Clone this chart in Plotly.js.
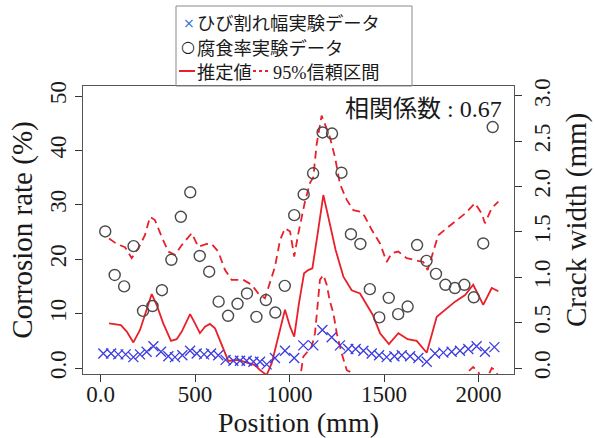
<!DOCTYPE html>
<html>
<head>
<meta charset="utf-8">
<script src="https://cdn.plot.ly/plotly-3.0.1.min.js"></script>
<style>html,body{margin:0;padding:0;background:#fff;}#chart{width:595px;height:438px;}</style>
</head>
<body>
<div id="chart"></div>
<script>
// ---- data ----
// corrosion-rate experiment (circles), %
const corrPos = [25,75,125,175,225,275,325,375,425,475,525,575,625,675,725,775,825,875,925,975,1025,1075,1125,1175,1225,1275,1325,1375,1425,1475,1525,1575,1625,1675,1725,1775,1825,1875,1925,1975,2025,2075];
const corrRate = [25.1,17.1,15.0,22.4,10.5,11.4,14.3,19.9,27.8,32.3,20.6,17.7,12.2,9.6,11.8,13.7,9.4,12.5,10.2,15.1,28.1,31.9,35.8,43.3,43.1,35.9,24.6,22.8,14.5,9.3,12.9,9.9,11.3,22.6,19.7,17.3,15.3,14.7,15.3,13.0,22.9,44.3];

// crack-width experiment (crosses), mm
const crackPos = [15,56,94,133,174,209,244,280,320,359,394,433,474,509,548,585,623,662,703,738,773,809,844,879,923,976,1025,1073,1126,1174,1223,1267,1311,1350,1391,1435,1474,1514,1555,1594,1638,1682,1726,1770,1814,1858,1902,1946,1990,2034,2084];
const crackWidth = [0.16,0.16,0.15,0.15,0.12,0.15,0.18,0.24,0.18,0.13,0.12,0.14,0.19,0.16,0.15,0.16,0.14,0.09,0.08,0.08,0.08,0.07,0.07,0.04,0.11,0.19,0.11,0.25,0.25,0.42,0.34,0.25,0.21,0.21,0.19,0.16,0.14,0.12,0.13,0.14,0.13,0.11,0.07,0.16,0.17,0.18,0.19,0.21,0.24,0.18,0.23];

// estimate (solid red), %
const estPos = [45,108,139,174,209,239,271,297,332,373,403,430,474,500,526,553,579,606,650,676,729,782,817,844,879,906,941,976,1003,1025,1050,1077,1099,1121,1152,1179,1205,1244,1285,1329,1373,1417,1440,1479,1526,1576,1625,1673,1726,1779,1832,1876,1929,1972,2025,2070,2105];
const estVal = [8.2,7.9,6.7,4.7,7.0,10.1,13.6,11.6,8.2,5.0,5.3,6.7,9.9,8.2,6.4,7.6,8.1,7.3,3.3,1.3,1.5,1.0,0.55,-0.4,-1.3,0.9,5.75,10.7,7.6,5.75,11.9,17.4,18.0,18.3,25.4,31.8,27.8,21.7,16.8,14.3,13.7,11.3,9.8,6.4,4.4,6.4,5.3,5.0,2.8,9.4,11.0,12.2,13.4,15.3,11.6,14.7,14.1];

// 95% interval, upper (dashed red), %
const upPos = [45,86,130,165,200,235,262,288,324,359,394,430,483,517,562,588,623,659,694,756,800,835,870,923,950,976,1003,1025,1047,1082,1108,1126,1144,1170,1214,1241,1267,1303,1338,1382,1399,1435,1479,1514,1541,1576,1620,1664,1708,1731,1761,1787,1832,1885,1929,1981,2017,2034,2070,2105];
const upVal = [23.8,22.8,22.2,20.2,22.0,24.4,27.8,27.2,24.1,21.4,20.8,22.6,24.8,22.3,22.8,22.8,21.4,18.0,16.2,16.2,15.3,13.7,12.8,18.6,23.5,25.7,25.1,20.5,24.8,30.6,34.0,35.1,41.2,46.4,42.4,38.7,33.8,30.9,29.0,28.7,27.8,25.4,22.9,19.5,21.1,21.4,20.2,19.9,19.5,18.0,21.4,24.4,25.7,27.2,28.4,30.3,28.4,26.6,29.4,30.6];

// 95% interval, lower (dashed red), % (mostly below the axis)
const loPos = [45,139,174,271,373,474,526,579,650,729,817,879,941,976,1025,1050,1065,1073,1091,1117,1135,1152,1161,1179,1197,1214,1232,1250,1276,1303,1338,1373,1435,1479,1526,1576,1625,1673,1726,1779,1832,1876,1929,1972,2000,2025,2050,2070,2087,2105];
const loVal = [-6,-8,-10,-3,-10,-5,-9,-7,-11,-13,-14,-15,-10,-4,-9,-3,-0.1,2.1,2.8,3.9,6.4,13.1,16.2,17.1,15.3,12.2,10.1,6.4,2.7,-0.4,-1.0,-2.0,-5,-9,-12,-8,-10,-10,-13,-5,-3,-2,-1.2,0.2,-0.8,-3,-1.5,0.0,-0.4,-1.5];

// tick labels
const xTickVals = [0,500,1000,1500,2000];
const xTickText = ['0.0','500','1000','1500','2000'];
const yTickVals = [0,10,20,30,40,50];
const yTickText = ['0.0','10','20','30','40','50'];
const y2TickVals = [0,0.5,1.0,1.5,2.0,2.5,3.0];
const y2TickText = ['0.0','0.5','1.0','1.5','2.0','2.5','3.0'];

// ---- style ----
const RED = '#e8202a';
const BLUE = '#3c3ce0';
const SERIF = 'Liberation Serif, Times New Roman, serif';
const JP = 'Noto Sans CJK JP, sans-serif';
const INK = '#1a1a1a';

const data = [
  {x: estPos, y: estVal, type: 'scatter', mode: 'lines', line: {color: RED, width: 1.8}, showlegend: false},
  {x: upPos, y: upVal, type: 'scatter', mode: 'lines', line: {color: RED, width: 1.8, dash: '8px,5px'}, showlegend: false},
  {x: loPos, y: loVal, type: 'scatter', mode: 'lines', line: {color: RED, width: 1.8, dash: '8px,5px'}, showlegend: false},
  {x: corrPos, y: corrRate, type: 'scatter', mode: 'markers', marker: {symbol: 'circle-open', size: 11, color: '#4a4a4a', line: {width: 1.4, color: '#4a4a4a'}}, showlegend: false},
  {x: crackPos, y: crackWidth, yaxis: 'y2', type: 'scatter', mode: 'markers', marker: {symbol: 'x-thin-open', size: 10, color: BLUE, line: {width: 1.3, color: BLUE}}, showlegend: false}
];

const L = 83, R = 514, T = 86, B = 374;
const px = v => (v - L) / (R - L);
const py = v => (B - v) / (B - T);

const axisCommon = {
  showgrid: false, zeroline: false, ticks: 'outside', ticklen: 7, tickwidth: 1, tickcolor: '#333',
  tickfont: {family: SERIF, size: 23, color: INK},
  showline: true, linecolor: '#555', linewidth: 1
};

const ann = (o) => Object.assign({xref: 'paper', yref: 'paper', showarrow: false, borderpad: 0, yanchor: 'middle'}, o);

const layout = {
  width: 595, height: 438,
  margin: {l: L, r: 595 - R, t: T, b: 438 - B, pad: 0},
  paper_bgcolor: '#fff', plot_bgcolor: '#fff',
  showlegend: false,
  xaxis: Object.assign({}, axisCommon, {
    range: [-92.6, 2187.8], tickmode: 'array', tickvals: xTickVals, ticktext: xTickText, mirror: true,
    ticklabelstandoff: -8,
    title: {text: 'Position (mm)', font: {family: SERIF, size: 28, color: INK}, standoff: 1}
  }),
  yaxis: Object.assign({}, axisCommon, {
    range: [-1.10, 51.84], tickmode: 'array', tickvals: yTickVals, ticktext: yTickText, tickangle: -90, mirror: true,
    title: {text: 'Corrosion rate (%)', font: {family: SERIF, size: 29, color: INK}, standoff: 4}
  }),
  yaxis2: Object.assign({}, axisCommon, {
    overlaying: 'y', side: 'right',
    range: [-0.066, 3.110], tickmode: 'array', tickvals: y2TickVals, ticktext: y2TickText, tickangle: -90
  }),
  shapes: [
    {type: 'rect', xref: 'paper', yref: 'paper', x0: px(176), x1: px(412), y0: py(86), y1: py(6), line: {color: '#8a8a8a', width: 1}, fillcolor: 'rgba(0,0,0,0)'},
    {type: 'line', xref: 'paper', yref: 'paper', x0: px(179), x1: px(195), y0: py(71), y1: py(71), line: {color: RED, width: 2}},
    {type: 'line', xref: 'paper', yref: 'paper', x0: px(253), x1: px(268), y0: py(71), y1: py(71), line: {color: RED, width: 2, dash: 'dot'}}
  ],
  annotations: [
    ann({x: px(576), y: py(220), xanchor: 'center', textangle: -90,
     text: 'Crack width (mm)', font: {family: SERIF, size: 29, color: INK}}),
    ann({x: px(188.5), y: py(23), xanchor: 'center',
     text: '×', font: {family: 'DejaVu Sans', size: 14, color: '#2b6fd6'}}),
    ann({x: px(196), y: py(22.5), xanchor: 'left',
     text: 'ひび割れ幅実験データ', font: {family: JP, size: 18.3, color: INK}}),
    ann({x: px(188), y: py(47), xanchor: 'center',
     text: '○', font: {family: 'DejaVu Sans', size: 16, color: INK}}),
    ann({x: px(196), y: py(46.8), xanchor: 'left',
     text: '腐食率実験データ', font: {family: JP, size: 18.3, color: INK}}),
    ann({x: px(196), y: py(71), xanchor: 'left',
     text: '推定値', font: {family: JP, size: 18.3, color: INK}}),
    ann({x: px(272), y: py(71), xanchor: 'left',
     text: '95%<span style="font-family:Noto Sans CJK JP">信頼区間</span>', font: {family: SERIF, size: 18.3, color: INK}}),
    ann({x: px(503), y: py(107), xanchor: 'right',
     text: '<span style="font-family:Noto Sans CJK JP">相関係数</span> : 0.67', font: {family: SERIF, size: 24, color: INK}})
  ]
};

Plotly.newPlot('chart', data, layout, {staticPlot: true, displayModeBar: false});
</script>
</body>
</html>
